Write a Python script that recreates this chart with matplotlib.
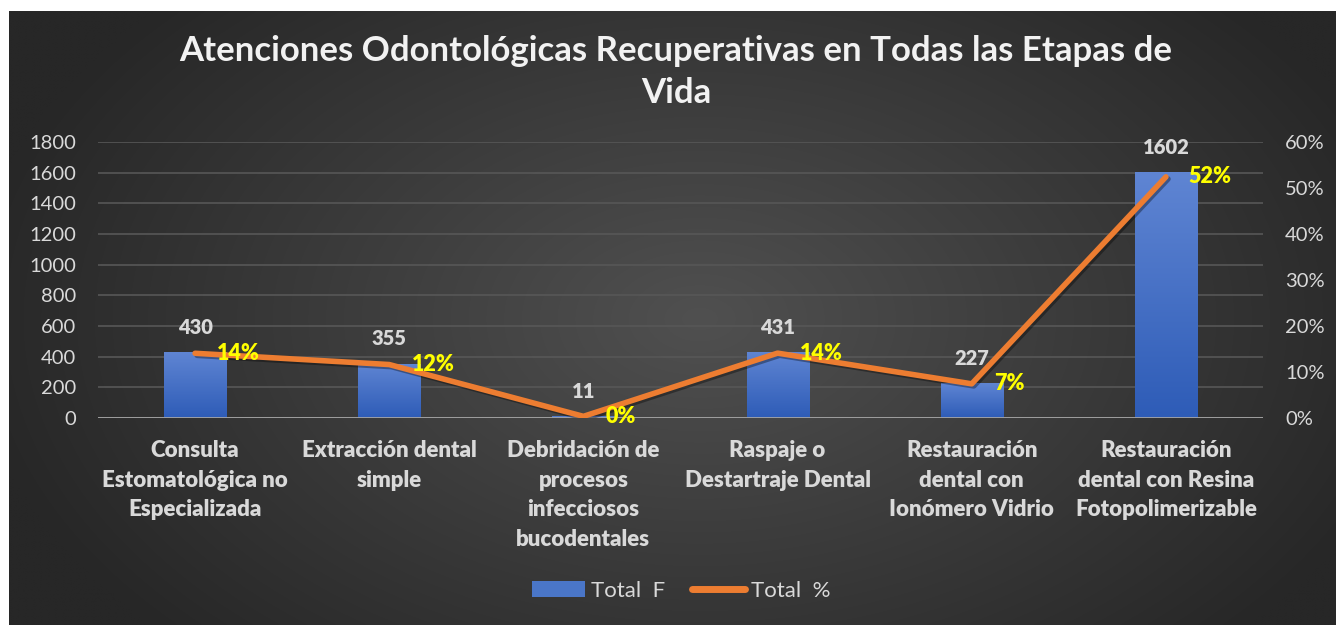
import numpy as np
import matplotlib
matplotlib.use("Agg")
import matplotlib.pyplot as plt
from matplotlib.patches import Patch
from matplotlib.lines import Line2D
import matplotlib.patheffects as pe

plt.rcParams['font.family'] = ['Lato', 'DejaVu Sans']

categories = [
    "Consulta\nEstomatológica no\nEspecializada",
    "Extracción dental\nsimple",
    "Debridación de\nprocesos\ninfecciosos\nbucodentales",
    "Raspaje o\nDestartraje Dental",
    "Restauración\ndental con\nIonómero Vidrio",
    "Restauración\ndental con Resina\nFotopolimerizable",
]
total_f = [430, 355, 11, 431, 227, 1602]
total_pct = [0.1407, 0.1162, 0.0036, 0.1410, 0.0743, 0.5242]
pct_labels = ["14%", "12%", "0%", "14%", "7%", "52%"]
left_ticks = [0, 200, 400, 600, 800, 1000, 1200, 1400, 1600, 1800]
right_ticks = [0, 0.1, 0.2, 0.3, 0.4, 0.5, 0.6]
right_tick_labels = ["0%", "10%", "20%", "30%", "40%", "50%", "60%"]
title = "Atenciones Odontológicas Recuperativas en Todas las Etapas de\nVida"
legend_labels = ["Total  F", "Total  %"]

BOLD = 800
W, H = 1336, 625
fig = plt.figure(figsize=(W / 100, H / 100), dpi=100)
fig.patch.set_facecolor("white")

# background panel with radial gradient
bg = fig.add_axes([9 / W, 0, 1 - 9 / W, 1 - 11 / H])
bg.set_axis_off()
ny, nx = 300, 640
yy, xx = np.mgrid[0:ny, 0:nx]
cx, cy = nx * 0.52, ny * 0.5
r = np.sqrt(((xx - cx) / (nx * 0.55)) ** 2 + ((yy - cy) / (ny * 0.75)) ** 2)
r = np.clip(r, 0, 1)
c_in = np.array([0x50, 0x50, 0x50]) / 255
c_out = np.array([0x27, 0x27, 0x27]) / 255
img = c_in[None, None, :] * (1 - r[..., None]) + c_out[None, None, :] * r[..., None]
bg.imshow(img, aspect="auto", extent=[0, 1, 0, 1], interpolation="bilinear")
bg.set_xlim(0, 1)
bg.set_ylim(0, 1)

ax = fig.add_axes([98 / W, 1 - 418 / H, (1263 - 98) / W, (418 - 142) / H])
ax.patch.set_alpha(0)
x = np.arange(len(categories))
bw = 0.32
bars = ax.bar(x, total_f, width=bw, color="#4472C4", zorder=2)
grad = np.linspace(0, 1, 100)[:, None]
top_c = np.array([0x5f, 0x85, 0xd3]) / 255
bot_c = np.array([0x2e, 0x5c, 0xb7]) / 255
gimg = top_c[None, None, :] * (1 - grad[..., None]) + bot_c[None, None, :] * grad[..., None]
gimg = np.repeat(gimg, 2, axis=1)
for b in bars:
    x0 = b.get_x()
    h = b.get_height()
    im = ax.imshow(gimg, extent=[x0, x0 + bw, 0, h], aspect="auto", zorder=2.5,
                   interpolation="bilinear")
    im.set_clip_path(b)

ax.set_xlim(-0.5, len(categories) - 0.5)
ax.set_ylim(0, 1800)
ax.set_yticks(left_ticks)
ax.grid(axis="y", color="#575757", lw=1.2, zorder=0)
ax.set_axisbelow(True)
ax.axhline(0, color="#a6a6a6", lw=2, zorder=3)
for s in ax.spines.values():
    s.set_visible(False)
ax.tick_params(axis="y", length=0, pad=16, labelsize=14.5, labelcolor="#d9d9d9")
ax.tick_params(axis="x", length=0, pad=16, labelsize=16, labelcolor="#d9d9d9")
ax.set_xticks(x)
ax.set_xticklabels(categories, fontweight=BOLD, linespacing=1.5)

for xi, v in zip(x, total_f):
    ax.annotate(str(v), (xi, v), xytext=(0, 11), textcoords="offset points",
                ha="center", va="bottom", fontsize=14.5, fontweight=BOLD,
                color="#d9d9d9", zorder=5)

ax2 = ax.twinx()
ax2.set_ylim(0, 0.6)
ax2.set_yticks(right_ticks)
ax2.set_yticklabels(right_tick_labels)
for s in ax2.spines.values():
    s.set_visible(False)
ax2.tick_params(axis="y", length=0, pad=16, labelsize=14.5, labelcolor="#d9d9d9")
ax2.plot(x, total_pct, color="#ED7D31", lw=4, solid_capstyle="round",
         solid_joinstyle="round", zorder=4,
         path_effects=[pe.SimpleLineShadow(offset=(1.5, -1.5), alpha=0.35), pe.Normal()])
for xi, v, lab in zip(x, total_pct, pct_labels):
    ax2.annotate(lab, (xi, v), xytext=(16, 0), textcoords="offset points",
                 ha="left", va="center", fontsize=15.5, fontweight=BOLD,
                 color="#FFFF00", zorder=6)

fig.text(676 / W, 1 - 72 / H, title, ha="center", va="center", fontsize=25,
         fontweight=700, color="#f2f2f2", linespacing=1.35)

handles = [Patch(facecolor="#4a76c8", edgecolor="none"),
           Line2D([0], [0], color="#ED7D31", lw=5, solid_capstyle="round")]
leg = fig.legend(handles, legend_labels, loc="center", bbox_to_anchor=(681 / W, 1 - 591 / H),
                 ncol=2, frameon=False, fontsize=16, labelcolor="#d9d9d9",
                 handlelength=2.4, handleheight=0.75, handletextpad=0.25, columnspacing=1.2)

fig.savefig("out.png", dpi=100)
